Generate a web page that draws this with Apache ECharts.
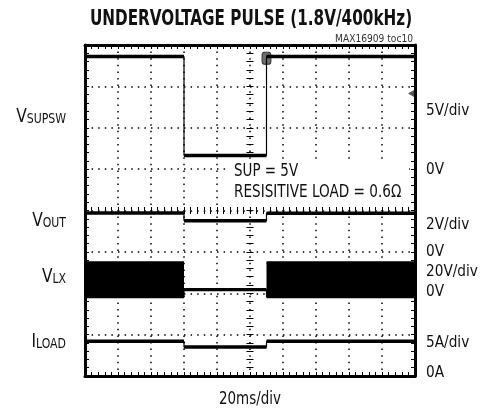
<!DOCTYPE html>
<html><head><meta charset="utf-8">
<script src="https://cdn.jsdelivr.net/npm/echarts@6/dist/echarts.min.js"></script>
<style>html,body{margin:0;padding:0;background:#fff}#c{width:482px;height:411px}</style>
</head><body><div id="c"></div>
<script>
// ---- data ----
const timeMs   = [0, 60, 60, 110, 110, 200];          // ms, 20ms/div
const vSupsw   = [13.6, 13.6, 1.65, 1.65, 13.6, 13.6]; // V, 5V/div
const vOut     = [1.88, 1.88, 1.51, 1.51, 1.87, 1.87]; // V, 2V/div
const vLx      = [-1.6, -1.6, 1.8, 1.8, -1.6, -1.6];   // V, 20V/div (low side of switching / DC level)
const vLxTop   = [14.8, 14.8, null, null, 14.8, 14.8]; // V, top of switching envelope (null = not switching)
const vLxBottom = -1.6;
const iLoad    = [4.2, 4.2, 3.5, 3.5, 4.2, 4.2];       // A, 5A/div
const trigTime = 110, trigLevel = 9.15;
const channelLabels = [['V','SUPSW'],['V','OUT'],['V','LX'],['I','LOAD']];
const scaleLabels = ['5V/div','0V','2V/div','0V','20V/div','0V','5A/div','0A'];

const FONT = "'Liberation Sans Narrow','DejaVu Sans Condensed','Arial Narrow',sans-serif";
const zip = (t, v) => t.map((x, i) => [x, v[i] == null ? '-' : v[i]]);
const plateaus = (t, v) => { const o = []; t.forEach((x, i) => { if (i > 0 && x === t[i-1]) o.push([x, '-']); o.push([x, v[i] == null ? '-' : v[i]]); }); return o; };

const dotted = { color: '#000', width: 1.5, type: [1.5, 5.1] };
const borderX = (pos, extra) => Object.assign({
  type: 'value', min: 0, max: 200, interval: 20, position: pos,
  axisLine: { show: true, onZero: false, lineStyle: { color: '#000', width: 3 } },
  axisTick: { show: true, inside: true, length: 4, lineStyle: { color: '#000', width: 1 } },
  minorTick: { show: true, splitNumber: 5, length: 4, lineStyle: { color: '#000', width: 1 } },
  axisLabel: { show: false }, splitLine: { show: false }
}, extra || {});
const borderY = (pos, extra) => Object.assign({
  type: 'value', min: -4, max: 4, interval: 1, position: pos,
  axisLine: { show: true, onZero: false, lineStyle: { color: '#000', width: 3 } },
  axisTick: { show: true, inside: true, length: 4, lineStyle: { color: '#000', width: 1 } },
  minorTick: { show: true, splitNumber: 5, length: 4, lineStyle: { color: '#000', width: 1 } },
  axisLabel: { show: false }, splitLine: { show: false }
}, extra || {});
const centerTicks = (inside) => ({ axisLine: { show: false, onZero: false }, axisTick: { show: true, inside: inside, length: 3.5, lineStyle: { color: '#000', width: 1 } }, minorTick: { show: true, splitNumber: 5, length: 3.5, lineStyle: { color: '#000', width: 1 } } });

const chAxis = (min, max) => ({ type: 'value', min, max, show: false, axisLine: { onZero: false } });

const traceSeries = (name, t, v, yi, w) => ([
  { name: name + ' edges', type: 'line', xAxisIndex: 0, yAxisIndex: yi, data: zip(t, v), showSymbol: false, lineStyle: { color: '#000', width: 1.2 }, z: 5 },
  { name: name, type: 'line', xAxisIndex: 0, yAxisIndex: yi, data: plateaus(t, v), showSymbol: false, connectNulls: false, lineStyle: { color: '#000', width: w || 3.5 }, z: 6 }
]);

const series = [].concat(
  traceSeries('VSUPSW', timeMs, vSupsw, 4),
  traceSeries('VOUT', timeMs, vOut, 5),
  [
    { name: 'VLX envelope', type: 'line', xAxisIndex: 0, yAxisIndex: 6, data: plateaus(timeMs, vLxTop), showSymbol: false, connectNulls: false, lineStyle: { color: '#000', width: 3 }, areaStyle: { color: '#000', opacity: 1, origin: vLxBottom }, z: 5 }
  ],
  traceSeries('VLX', timeMs, vLx, 6, 3.2),
  traceSeries('ILOAD', timeMs, iLoad, 7)
);
// trigger markers
series[0].markPoint = {
  silent: true, label: { show: false }, animation: false,
  data: [
    { coord: [trigTime, vSupsw[vSupsw.length-1] - 0.2], symbol: 'roundRect', symbolSize: [9, 12], itemStyle: { color: '#6e6e6e', borderColor: '#333', borderWidth: 1 } },
    { coord: [200, trigLevel], symbol: 'triangle', symbolSize: [7, 6], symbolRotate: 90, symbolOffset: [-4, 0], itemStyle: { color: '#555' } }
  ]
};

const txt = (x, y, text, size, opts) => Object.assign({ type: 'text', x, y, z: 50, style: Object.assign({ text, font: size + 'px ' + FONT, fill: '#111', verticalAlign: 'middle' }, (opts && opts.style) || {}) }, (opts && opts.el) || {});

const graphics = [
  txt(251, 19, 'UNDERVOLTAGE PULSE (1.8V/400kHz)', 22, { style: { font: 'bold 22px ' + FONT, align: 'center' }, el: { scaleX: 0.77 } }),
  txt(413, 39, 'MAX16909 toc10', 11, { style: { align: 'right', fill: '#333' }, el: { scaleX: 0.92 } }),
  { type: 'rect', shape: { x: 228, y: 159, width: 181, height: 46 }, style: { fill: '#fff' }, z: 40 },
  txt(234, 172, 'SUP = 5V', 17, { el: { scaleX: 0.88 } }),
  txt(234, 193, 'RESISITIVE LOAD = 0.6Ω', 17, { el: { scaleX: 0.89 } }),
  txt(250, 400, '20ms/div', 17, { style: { align: 'center' }, el: { scaleX: 0.88 } })
];
const labelBase = [127, 231, 287, 352];
channelLabels.forEach((l, i) => {
  graphics.push({ type: 'text', x: 66, y: labelBase[i], scaleX: 0.9, style: { text: '{a|' + l[0] + '}{b|' + l[1] + '}', align: 'right', verticalAlign: 'bottom', rich: { a: { font: '19px ' + FONT, fill: '#111', verticalAlign: 'bottom', lineHeight: 20 }, b: { font: '13.5px ' + FONT, fill: '#111', verticalAlign: 'bottom', lineHeight: 20, padding: [0, 0, 1, 0] } } }, z: 50 });
});
const scaleY = [111, 170, 225, 252, 272, 292, 343, 373];
scaleLabels.forEach((s, i) => {
  graphics.push(txt(426, scaleY[i], s, 16, { el: { scaleX: 0.95 } }));
});

const chart = echarts.init(document.getElementById('c'), null, { renderer: 'canvas' });
chart.setOption({
  animation: false,
  backgroundColor: '#fff',
  grid: { left: 85, top: 45, width: 330, height: 331, containLabel: false },
  xAxis: [
    borderX('bottom', { splitLine: { show: true, lineStyle: dotted } }),
    borderX('top'),
    borderX('bottom', Object.assign({ offset: -165.5 }, centerTicks(true))),
    borderX('bottom', Object.assign({ offset: -165.5 }, centerTicks(false)))
  ],
  yAxis: [
    borderY('left', { splitLine: { show: true, lineStyle: dotted } }),
    borderY('right'),
    borderY('left', Object.assign({ offset: -165 }, centerTicks(true))),
    borderY('left', Object.assign({ offset: -165 }, centerTicks(false))),
    chAxis(-25, 15),   // VSUPSW 5V/div
    chAxis(-6, 10),    // VOUT 2V/div
    chAxis(-40, 120),  // VLX 20V/div
    chAxis(0, 40)      // ILOAD 5A/div
  ],
  series: series,
  graphic: graphics
});
</script></body></html>
